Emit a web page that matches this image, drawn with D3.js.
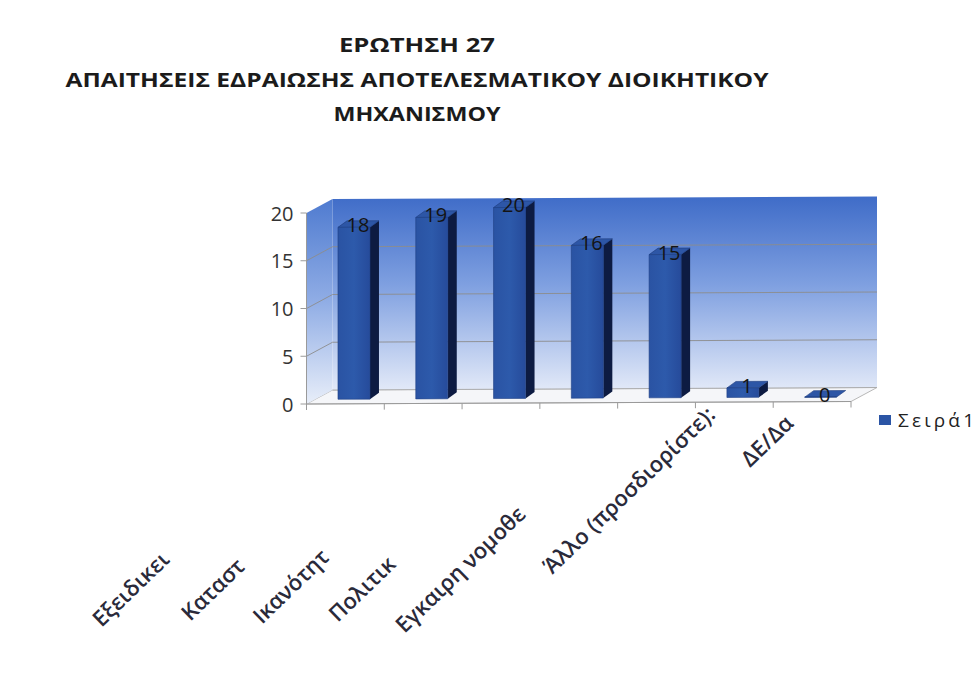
<!DOCTYPE html>
<html>
<head>
<meta charset="utf-8">
<script src="https://cdn.jsdelivr.net/npm/d3@7/dist/d3.min.js"></script>
<style>
  html, body { margin: 0; padding: 0; background: #ffffff; }
  svg { display: block; }
</style>
</head>
<body>
<svg id="chart" width="974" height="677"></svg>
<script>
// ---------------- DATA ----------------
const titleLines = ["ΕΡΩΤΗΣΗ 27", "ΑΠΑΙΤΗΣΕΙΣ ΕΔΡΑΙΩΣΗΣ ΑΠΟΤΕΛΕΣΜΑΤΙΚΟΥ ΔΙΟΙΚΗΤΙΚΟΥ", "ΜΗΧΑΝΙΣΜΟΥ"];
const categories = ["Εξειδικει", "Καταστ", "Ικανότητ", "Πολιτικ", "Εγκαιρη νομοθε", "Άλλο (προσδιορίστε):", "ΔΕ/Δα"];
const values = [18, 19, 20, 16, 15, 1, 0];
const yTicks = [0, 5, 10, 15, 20];
const seriesName = "Σειρά1";

// ---------------- LAYOUT ----------------
const svg = d3.select("#chart");
const X0 = 306.5, X1 = 851;
const D = [26, -14];          // depth vector of the 3D box
const TILT = -2.5;            // slight perspective drop across the width
const barDepth = [9, -6.5];
const barT = 0.33;            // depth position of the bar row
const barW = 32;

const x = d3.scaleBand().domain(categories).range([X0, X1]);
const y = d3.scaleLinear().domain([0, 20]).range([404, 213]);
const tiltY = xx => TILT * (xx - X0) / (X1 - X0);
const P = (xx, v, t) => [xx + t * D[0], y(v) + t * D[1] + tiltY(xx)];
const poly = pts => "M" + pts.map(p => p.join(",")).join("L") + "Z";

const defs = svg.append("defs");
const wallGrad = defs.append("linearGradient").attr("id", "wallGrad")
  .attr("x1", 0).attr("y1", 0).attr("x2", 0).attr("y2", 1);
wallGrad.append("stop").attr("offset", "0%").attr("stop-color", "#3f6cc8");
wallGrad.append("stop").attr("offset", "45%").attr("stop-color", "#7e9fe0");
wallGrad.append("stop").attr("offset", "100%").attr("stop-color", "#e2e9f8");
const sideGrad = defs.append("linearGradient").attr("id", "sideGrad")
  .attr("x1", 0).attr("y1", 0).attr("x2", 0).attr("y2", 1);
sideGrad.append("stop").attr("offset", "0%").attr("stop-color", "#4f7bd0");
sideGrad.append("stop").attr("offset", "50%").attr("stop-color", "#90ade5");
sideGrad.append("stop").attr("offset", "100%").attr("stop-color", "#e8eef9");
const barGrad = defs.append("linearGradient").attr("id", "barGrad")
  .attr("x1", 0).attr("y1", 0).attr("x2", 1).attr("y2", 0);
barGrad.append("stop").attr("offset", "0%").attr("stop-color", "#2a53a3");
barGrad.append("stop").attr("offset", "50%").attr("stop-color", "#2d5aab");
barGrad.append("stop").attr("offset", "100%").attr("stop-color", "#264b9b");

// Title
const titleY = [52, 87, 121];
const titleW = [156, 703, 167];
svg.append("g").selectAll("text").data(titleLines).join("text")
  .attr("x", 417).attr("y", (d, i) => titleY[i])
  .attr("text-anchor", "middle")
  .attr("textLength", (d, i) => titleW[i])
  .attr("lengthAdjust", "spacingAndGlyphs")
  .style("font-family", "'Open Sans', 'DejaVu Sans', sans-serif")
  .style("font-weight", "bold").style("font-size", "19px").style("fill", "#1b1b1b")
  .text(d => d);

// Walls
const walls = svg.append("g");
walls.append("path") // floor
  .attr("d", poly([P(X0, 0, 0), P(X1, 0, 0), P(X1, 0, 1), P(X0, 0, 1)]))
  .attr("fill", "#f5f6f9").attr("stroke", "#b8b8b8").attr("stroke-width", 1);
walls.append("path") // side wall
  .attr("d", poly([P(X0, 0, 0), P(X0, 20, 0), P(X0, 20, 1), P(X0, 0, 1)]))
  .attr("fill", "url(#sideGrad)");
walls.append("path") // back wall
  .attr("d", poly([P(X0, 0, 1), P(X1, 0, 1), P(X1, 20, 1), P(X0, 20, 1)]))
  .attr("fill", "url(#wallGrad)");

// gridlines
const grid = svg.append("g").attr("fill", "none").attr("stroke", "#8c8c8c").attr("stroke-width", 0.9);
grid.selectAll("path").data(yTicks.filter(v => v > 0 && v < 20)).join("path")
  .attr("d", v => "M" + P(X0, v, 0) + "L" + P(X0, v, 1) + "L" + P(X1, v, 1));
grid.append("path").attr("d", "M" + P(X0, 0, 1) + "L" + P(X1, 0, 1)).attr("stroke", "#a8a8a8");

// Axes
const ax = svg.append("g").attr("stroke", "#9a9a9a").attr("stroke-width", 1).attr("fill", "none");
ax.append("path").attr("d", "M" + P(X0, 0, 0) + "L" + P(X0, 20, 0));
ax.selectAll(".yt").data(yTicks).join("path").attr("class", "yt")
  .attr("d", v => { const p = P(X0, v, 0); return `M${p[0] - 6},${p[1]}L${p[0]},${p[1]}`; });
ax.append("path").attr("d", "M" + P(X0, 0, 0) + "L" + P(X1, 0, 0));
const bounds = categories.map(c => x(c)).concat([X1]);
ax.selectAll(".xt").data(bounds).join("path").attr("class", "xt")
  .attr("d", xx => { const p = P(xx, 0, 0); return `M${p[0]},${p[1]}L${p[0]},${p[1] + 6}`; });

svg.append("g").selectAll("text").data(yTicks).join("text")
  .attr("x", X0 - 13).attr("y", v => P(X0, v, 0)[1])
  .attr("text-anchor", "end").attr("dominant-baseline", "central")
  .style("font-family", "'Open Sans', 'Liberation Sans', sans-serif")
  .style("font-size", "20px").style("fill", "#333")
  .text(v => v);

// Bars
const bars = svg.append("g");
categories.forEach((c, i) => {
  const v = values[i];
  const cx = x(c) + x.bandwidth() / 2;
  const l = P(cx - barW / 2, 0, barT), r = P(cx + barW / 2, 0, barT);
  const lt = P(cx - barW / 2, v, barT), rt = P(cx + barW / 2, v, barT);
  const off = p => [p[0] + barDepth[0], p[1] + barDepth[1]];
  const g = bars.append("g");
  g.append("path").attr("d", poly([r, rt, off(rt), off(r)])).attr("fill", "#0d1b42");
  g.append("path").attr("d", poly([lt, rt, off(rt), off(lt)])).attr("fill", "#2d56a6")
    .attr("stroke", "#1c3a7c").attr("stroke-width", 0.6);
  g.append("path").attr("d", poly([l, r, rt, lt])).attr("fill", "url(#barGrad)")
    .attr("stroke", "#1f3f85").attr("stroke-width", 0.6);
  g.append("text")
    .attr("x", (lt[0] + rt[0]) / 2 + 4).attr("y", (lt[1] + rt[1]) / 2 + 5)
    .attr("text-anchor", "middle")
    .style("font-family", "'Open Sans', 'Liberation Sans', sans-serif")
    .style("font-size", "20px").style("fill", "#141414")
    .text(v);
});

// Category labels (rotated)
const labelShiftX = [-244, -233, -239, -241, -252, -182, -62];
const labelY = [628, 622, 625, 623, 634, 575, 468];
svg.append("g").selectAll("text").data(categories).join("text")
  .attr("transform", (c, i) => {
    const sx = x(c) + x.bandwidth() / 2 + labelShiftX[i];
    return `translate(${sx},${labelY[i]}) rotate(-44)`;
  })
  .attr("text-anchor", "start")
  .style("font-family", "'Open Sans', 'Liberation Sans', sans-serif")
  .style("font-size", "22px").style("font-weight", "600").style("fill", "#2a2a3a")
  .text(c => c);

// Legend
const lg = svg.append("g").attr("transform", "translate(879,415)");
lg.append("rect").attr("width", 12).attr("height", 10).attr("fill", "#2b55a5");
lg.append("text").attr("x", 19).attr("y", 12)
  .attr("textLength", 76).attr("lengthAdjust", "spacing")
  .style("font-family", "'Open Sans', 'DejaVu Sans', sans-serif").style("font-size", "19px").style("fill", "#222")
  .text(seriesName);
</script>
</body>
</html>
